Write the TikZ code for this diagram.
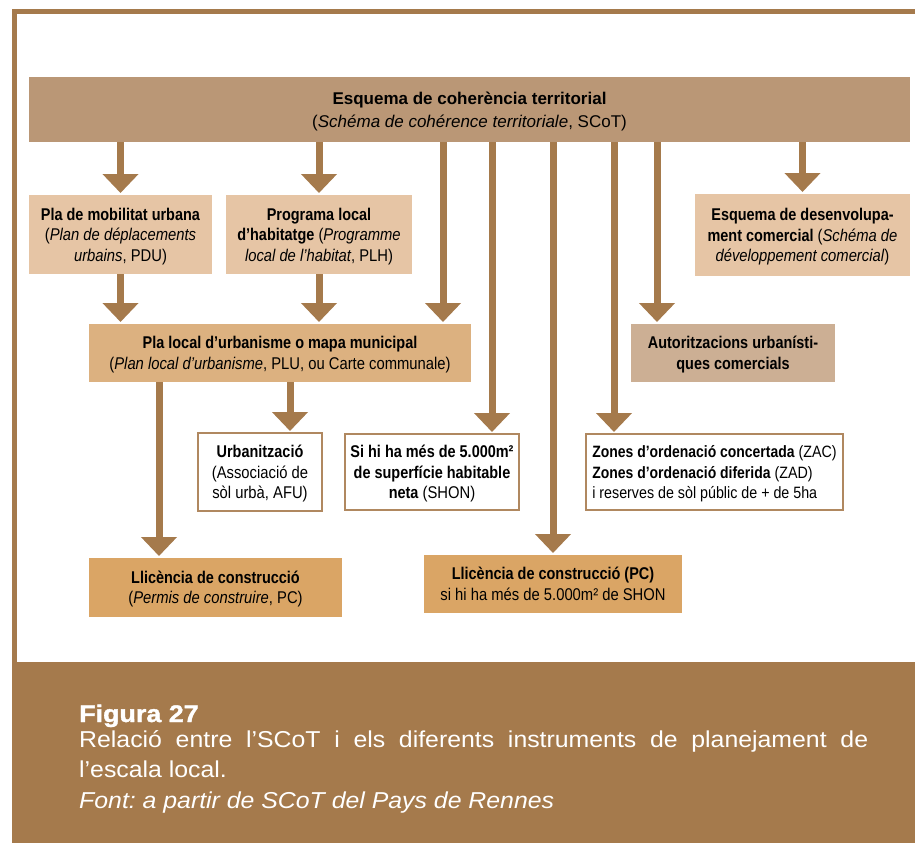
\documentclass[tikz,border=0pt]{standalone}
\usepackage{fontspec}
\setmainfont{Liberation Sans}
\newfontfamily\cond{Liberation Sans}[
  UprightFeatures={FakeStretch=0.87},
  BoldFeatures={FakeStretch=0.85},
  ItalicFeatures={FakeStretch=0.87}]
\newfontfamily\capfont{Liberation Sans}[
  UprightFeatures={FakeStretch=1.08},
  BoldFeatures={FakeStretch=1.12, FakeBold=1.5},
  ItalicFeatures={FakeStretch=1.08}]
\usetikzlibrary{arrows.meta}
\definecolor{brn}{HTML}{A57A4C}
\definecolor{scotc}{HTML}{BA9776}
\definecolor{lite}{HTML}{E6C5A5}
\definecolor{pluc}{HTML}{DCB180}
\definecolor{autc}{HTML}{CCAF94}
\definecolor{llic}{HTML}{DAA565}
\definecolor{wbord}{HTML}{B08860}
\frenchspacing
\begin{document}
\begin{tikzpicture}[x=1pt,y=-1pt,
  font=\cond\fontsize{17}{20.5}\selectfont,
  box/.style={inner sep=0pt, outer sep=0pt, align=center, anchor=north west, text=black, text depth=0pt},
  wbox/.style={box, fill=white, draw=wbord, line width=2pt},
  arr/.style={draw=brn, line width=7pt, -{Triangle[width=35pt,length=19pt]}, shorten >=2pt},
  captxt/.style={anchor=base west, inner sep=0pt, text=white, font=\capfont\fontsize{23}{30}\selectfont}]
\useasboundingbox (0,0) rectangle (915,843);
\clip (0,0) rectangle (915,843);
% frame and caption band
\draw[brn, line width=5pt] (920,11.5) -- (14.5,11.5) -- (14.5,665);
\fill[brn] (12,662) rectangle (915,843);
% boxes
\node[box, fill=scotc, minimum width=881pt, minimum height=65pt,
      font=\fontsize{17}{23}\selectfont] (scot) at (29,77)
  {\textbf{Esquema de coherència territorial}\\(\textit{Schéma de cohérence territoriale}, SCoT)};
\node[box, fill=lite, minimum width=183pt, minimum height=79pt] (pdu) at (29,195)
  {\textbf{Pla de mobilitat urbana}\\(\textit{Plan de déplacements}\\\textit{urbains}, PDU)};
\node[box, fill=lite, minimum width=186pt, minimum height=79pt] (prog) at (226,195)
  {\textbf{Programa local}\\\textbf{d’habitatge} (\textit{Programme}\\\textit{local de l’habitat}, PLH)};
\node[box, fill=lite, minimum width=215pt, minimum height=82pt] (desv) at (695,194)
  {\textbf{Esquema de desenvolupa-}\\\textbf{ment comercial} (\textit{Schéma de}\\\textit{développement comercial})};
\node[box, fill=pluc, minimum width=382pt, minimum height=58pt] (plu) at (89,324)
  {\textbf{Pla local d’urbanisme o mapa municipal}\\(\textit{Plan local d’urbanisme}, PLU, ou Carte communale)};
\node[box, fill=autc, minimum width=204pt, minimum height=58pt] (aut) at (631,324)
  {\textbf{Autoritzacions urbanísti-}\\\textbf{ques comercials}};
\node[wbox, minimum width=124pt, minimum height=78pt] (urb) at (198,433)
  {\textbf{Urbanització}\\(Associació de\\sòl urbà, AFU)};
\node[wbox, minimum width=174pt, minimum height=76pt] (shon) at (345,434)
  {\textbf{Si hi ha més de 5.000m²}\\\textbf{de superfície habitable}\\\textbf{neta} (SHON)};
\node[wbox, minimum width=257pt, minimum height=76pt, align=left,
      font=\cond\fontsize{16.4}{20.5}\selectfont] (zac) at (586,434)
  {\textbf{Zones d’ordenació concertada} (ZAC)\\\textbf{Zones d’ordenació diferida} (ZAD)\\i reserves de sòl públic de + de 5ha};
\node[box, fill=llic, minimum width=253pt, minimum height=59pt] (llic1) at (89,558)
  {\textbf{Llicència de construcció}\\(\textit{Permis de construire}, PC)};
\node[box, fill=llic, minimum width=258pt, minimum height=58pt] (llic2) at (424,555)
  {\textbf{Llicència de construcció (PC)}\\si hi ha més de 5.000m² de SHON};
% arrow positions
\coordinate (c1) at (443,0);
\coordinate (c2) at (492,0);
\coordinate (c4) at (614,0);
\coordinate (c5) at (657,0);
\coordinate (c6) at (159,0);
\coordinate (c7) at (290,0);
% arrows
\draw[arr] (scot.south -| pdu.north) -- (pdu.north);
\draw[arr] (scot.south -| prog.north) -- (prog.north);
\draw[arr] (scot.south -| desv.north) -- (desv.north);
\draw[arr] (scot.south -| c1) -- (plu.north -| c1);
\draw[arr] (scot.south -| c2) -- (shon.north -| c2);
\draw[arr] (scot.south -| llic2.north) -- (llic2.north);
\draw[arr] (scot.south -| c4) -- (zac.north -| c4);
\draw[arr] (scot.south -| c5) -- (aut.north -| c5);
\draw[arr] (pdu.south) -- (pdu.south |- plu.north);
\draw[arr] (prog.south) -- (prog.south |- plu.north);
\draw[arr] (plu.south -| c6) -- (llic1.north -| c6);
\draw[arr] (plu.south -| c7) -- (urb.north -| c7);
% caption
\node[captxt, font=\capfont\bfseries\fontsize{24}{30}\selectfont] (fig) at (79,722) {Figura 27};
\node[captxt] (cap1) at (79,747) {\makebox[789pt][s]{Relació entre l’SCoT i els diferents instruments de planejament de}};
\node[captxt] (cap2) at (79,777) {l’escala local.};
\node[captxt, font=\capfont\itshape\fontsize{23}{30}\selectfont] (cap3) at (79,808) {Font: a partir de SCoT del Pays de Rennes};
\end{tikzpicture}
\end{document}
